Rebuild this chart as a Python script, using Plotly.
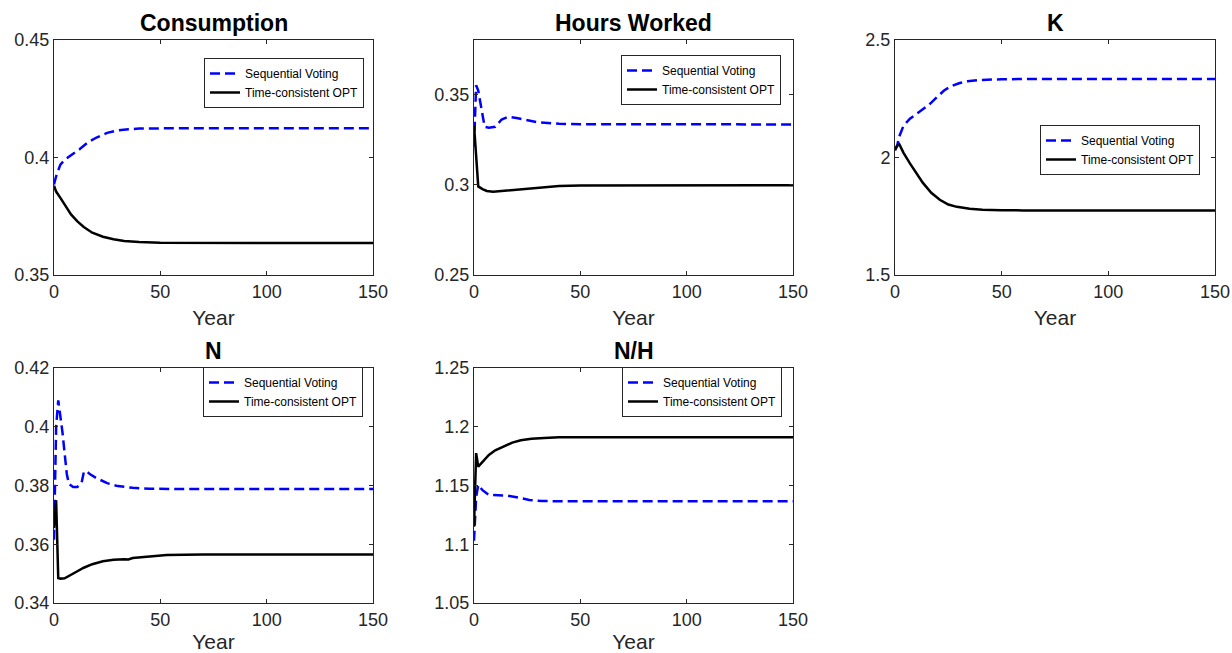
import plotly.graph_objects as go

# ---------------- data ----------------
yr_c_sv = [0, 1, 3, 5, 8, 12, 16, 20, 25, 30, 35, 40, 50, 60, 80, 100, 150]
c_sv = [0.3885, 0.392, 0.397, 0.399, 0.401, 0.4035, 0.4065, 0.4085, 0.4105, 0.4115, 0.412, 0.4123, 0.4124, 0.4124, 0.4124, 0.4124, 0.4124]
yr_c_opt = [0, 1, 3, 5, 8, 11, 14, 18, 23, 28, 33, 40, 50, 150]
c_opt = [0.388, 0.3855, 0.3828, 0.3798, 0.3758, 0.3728, 0.3704, 0.368, 0.3663, 0.3652, 0.3645, 0.364, 0.3637, 0.3636]

yr_h_sv = [0, 1, 2, 3, 4, 5, 7, 10, 13, 16, 20, 25, 30, 40, 50, 150]
h_sv = [0.321, 0.355, 0.352, 0.346, 0.338, 0.332, 0.3315, 0.332, 0.336, 0.3375, 0.3368, 0.3355, 0.3345, 0.3337, 0.3334, 0.3333]
yr_h_opt = [0, 1, 2, 4, 6, 9, 14, 20, 30, 40, 50, 150]
h_opt = [0.333, 0.318, 0.299, 0.2975, 0.2965, 0.296, 0.2965, 0.2975, 0.2985, 0.2992, 0.2995, 0.2997]

yr_k_sv = [0, 1, 2, 4, 7, 10, 13, 16, 20, 23, 26, 30, 34, 40, 50, 60, 150]
k_sv = [2.03, 2.05, 2.09, 2.135, 2.165, 2.185, 2.205, 2.225, 2.26, 2.285, 2.302, 2.316, 2.324, 2.33, 2.333, 2.334, 2.334]
yr_k_opt = [0, 1, 2, 4, 7, 10, 13, 17, 21, 25, 29, 35, 41, 50, 60, 150]
k_opt = [2.035, 2.05, 2.057, 2.02, 1.975, 1.932, 1.893, 1.85, 1.82, 1.80, 1.79, 1.782, 1.778, 1.776, 1.775, 1.775]

yr_n_sv = [0, 1, 2, 3, 4, 5, 6, 7, 9, 11, 13, 14, 15, 17, 20, 25, 30, 37, 45, 60, 150]
n_sv = [0.3615, 0.400, 0.409, 0.404, 0.398, 0.391, 0.384, 0.3805, 0.3795, 0.3795, 0.381, 0.3845, 0.385, 0.3838, 0.3825, 0.3808, 0.3798, 0.3792, 0.3789, 0.3788, 0.3788]
yr_n_opt = [0, 1, 2, 3, 5, 8, 11, 14, 18, 23, 28, 33, 35, 37, 45, 53, 70, 150]
n_opt = [0.3655, 0.375, 0.3485, 0.3483, 0.3484, 0.3495, 0.3508, 0.352, 0.3532, 0.3542, 0.3547, 0.3549, 0.3548, 0.3553, 0.3559, 0.3563, 0.3565, 0.3565]

yr_nh_sv = [0, 1, 2, 4, 7, 10, 15, 20, 26, 32, 40, 150]
nh_sv = [1.103, 1.14, 1.1505, 1.146, 1.142, 1.142, 1.1415, 1.140, 1.1377, 1.1368, 1.1366, 1.1366]
yr_nh_opt = [0, 1, 2, 4, 7, 10, 14, 18, 22, 27, 33, 40, 50, 150]
nh_opt = [1.115, 1.1776, 1.166, 1.170, 1.176, 1.180, 1.1836, 1.1865, 1.1885, 1.1898, 1.1905, 1.191, 1.191, 1.191]

titles = ["Consumption", "Hours Worked", "K", "N", "N/H"]
series_names = ["Sequential Voting", "Time-consistent OPT"]
y_ranges = [[0.35, 0.45], [0.25, 0.38], [1.5, 2.5], [0.34, 0.42], [1.05, 1.25]]
y_ticks = [[0.35, 0.4, 0.45], [0.25, 0.3, 0.35], [1.5, 2, 2.5],
           [0.34, 0.36, 0.38, 0.4, 0.42], [1.05, 1.1, 1.15, 1.2, 1.25]]
y_ticktext = [["0.35", "0.4", "0.45"], ["0.25", "0.3", "0.35"], ["1.5", "2", "2.5"],
              ["0.34", "0.36", "0.38", "0.4", "0.42"], ["1.05", "1.1", "1.15", "1.2", "1.25"]]
x_ticks = [0, 50, 100, 150]

panels = [
    (yr_c_sv, c_sv, yr_c_opt, c_opt),
    (yr_h_sv, h_sv, yr_h_opt, h_opt),
    (yr_k_sv, k_sv, yr_k_opt, k_opt),
    (yr_n_sv, n_sv, yr_n_opt, n_opt),
    (yr_nh_sv, nh_sv, yr_nh_opt, nh_opt),
]

# ---------------- layout geometry (screen pixels) ----------------
OFF = 0  # page body margin is removed by the post script below
W, H = 1232, 653
x_doms_px = [(54, 373), (474, 793), (895, 1215), (54, 373), (474, 793)]
y_doms_px = [(40, 275), (40, 275), (40, 275), (368, 603), (368, 603)]
legend_center_px = [(284, 83), (701, 80), (1120, 150), (283, 392), (702, 392)]

FONT = "Liberation Sans, Arial, Helvetica, sans-serif"
AX = "#262626"


def px_x(p):
    return (p - OFF) / W


def px_y(p):
    return 1 - (p - OFF) / H


fig = go.Figure()
layout = dict(
    width=W, height=H,
    margin=dict(l=0, r=0, t=0, b=0, autoexpand=False),
    paper_bgcolor="white", plot_bgcolor="white",
    font=dict(family=FONT, color=AX),
    annotations=[],
)

for i, (xs1, ys1, xs2, ys2) in enumerate(panels):
    n = i + 1
    xa = "x" if n == 1 else f"x{n}"
    ya = "y" if n == 1 else f"y{n}"
    lg = "legend" if n == 1 else f"legend{n}"
    fig.add_trace(go.Scatter(x=xs1, y=ys1, mode="lines", name=series_names[0],
                             line=dict(color="#0000FF", width=2.5, dash="10px,5px"),
                             xaxis=xa, yaxis=ya, legend=lg, showlegend=True))
    fig.add_trace(go.Scatter(x=xs2, y=ys2, mode="lines", name=series_names[1],
                             line=dict(color="#000000", width=2.5),
                             xaxis=xa, yaxis=ya, legend=lg, showlegend=True))
    x0, x1 = x_doms_px[i]
    y0, y1 = y_doms_px[i]
    xkey = "xaxis" if n == 1 else f"xaxis{n}"
    ykey = "yaxis" if n == 1 else f"yaxis{n}"
    layout[xkey] = dict(
        domain=[px_x(x0), px_x(x1)], anchor=ya, range=[0, 150], automargin=False,
        tickvals=x_ticks, ticktext=[str(v) for v in x_ticks],
        ticks="inside", ticklen=4, tickcolor=AX, tickwidth=1,
        showline=True, linecolor=AX, linewidth=1, mirror="ticks",
        showgrid=False, zeroline=False,
        tickfont=dict(size=18, family=FONT, color=AX),
        title=dict(text="Year", font=dict(size=21, family=FONT, color=AX), standoff=9),
    )
    layout[ykey] = dict(
        domain=[px_y(y1), px_y(y0)], anchor=xa, range=y_ranges[i], automargin=False,
        tickvals=y_ticks[i], ticktext=y_ticktext[i],
        ticks="inside", ticklen=4, tickcolor=AX, tickwidth=1,
        showline=True, linecolor=AX, linewidth=1, mirror="ticks",
        showgrid=False, zeroline=False,
        tickfont=dict(size=18, family=FONT, color=AX),
    )
    lx, ly = legend_center_px[i]
    layout[lg] = dict(
        x=px_x(lx), y=px_y(ly), xanchor="center", yanchor="middle",
        bgcolor="white", bordercolor=AX, borderwidth=1,
        font=dict(size=12, family=FONT, color="#000000"),
        tracegroupgap=0, itemwidth=30,
    )
    layout["annotations"].append(dict(
        text=f"<b>{titles[i]}</b>", x=px_x((x0 + x1) / 2), y=px_y(y0),
        xref="paper", yref="paper", xanchor="center", yanchor="bottom",
        showarrow=False, font=dict(size=23, family=FONT, color="#000000"), yshift=2,
    ))

fig.update_layout(**layout)
fig.write_html(
    "out.html",
    config={"displayModeBar": False},
    post_script="document.body.style.margin='0';"
                "document.body.style.overflow='hidden';"
                "document.documentElement.style.overflow='hidden';",
)
